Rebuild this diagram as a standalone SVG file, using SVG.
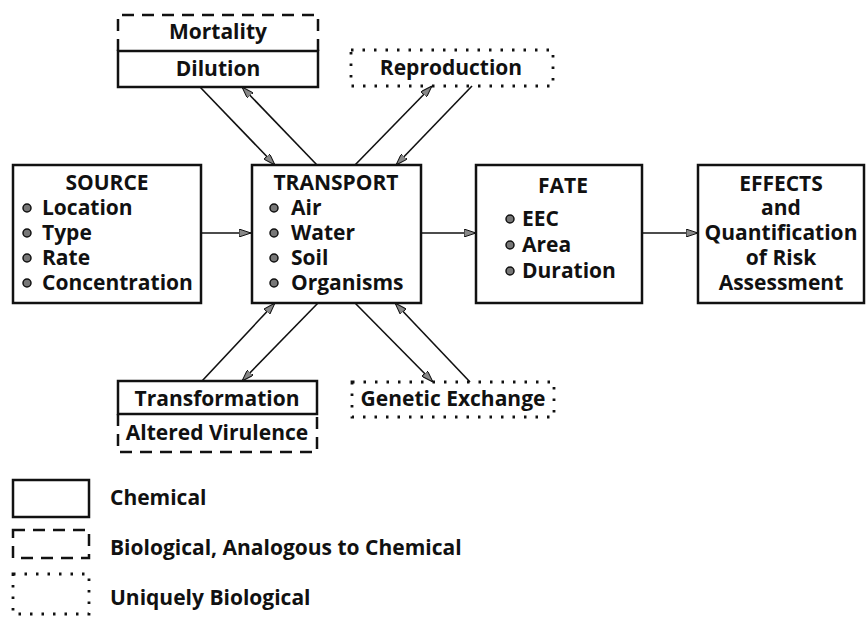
<svg xmlns="http://www.w3.org/2000/svg" width="867" height="617" viewBox="0 0 867 617">
<defs>
<style>
.t{font-family:"Open Sans","Liberation Sans",sans-serif;font-weight:bold;font-size:21px;fill:#111}
.c{text-anchor:middle}
.solid{fill:none;stroke:#111;stroke-width:2.5}
.dash{fill:none;stroke:#111;stroke-width:2.5;stroke-dasharray:12 8}
.dot{fill:none;stroke:#111;stroke-width:2.8;stroke-dasharray:2.5 9;stroke-linecap:butt}
.ln{stroke:#111;stroke-width:1.6;fill:none;marker-end:url(#ah)}
.b{fill:#777;stroke:#111;stroke-width:1.5}
</style>
<marker id="ah" viewBox="0 0 12 8" refX="12" refY="4" markerWidth="12" markerHeight="8" markerUnits="userSpaceOnUse" orient="auto">
<path d="M0,0 L12,4 L0,8 Z" fill="#888" stroke="#111" stroke-width="1"/>
</marker>
</defs>
<rect width="867" height="617" fill="#fff"/>

<g id="connectors">
<line class="ln" x1="200" y1="233" x2="251" y2="233"/>
<line class="ln" x1="421" y1="233" x2="476" y2="233"/>
<line class="ln" x1="642" y1="233" x2="698" y2="233"/>
<line class="ln" x1="200" y1="87" x2="275" y2="165"/>
<line class="ln" x1="317" y1="165" x2="242" y2="87"/>
<line class="ln" x1="355" y1="165" x2="432" y2="86"/>
<line class="ln" x1="472" y1="86" x2="396" y2="165"/>
<line class="ln" x1="202" y1="381" x2="275" y2="303"/>
<line class="ln" x1="318" y1="303" x2="242" y2="381"/>
<line class="ln" x1="355" y1="303" x2="433" y2="382"/>
<line class="ln" x1="470" y1="382" x2="395" y2="303"/>
</g>

<g id="mortality">
<path class="dash" d="M118,51 V15 H318 V51"/>
<text class="t c" x="218" y="39">Mortality</text>
</g>
<g id="dilution">
<rect class="solid" x="118" y="51" width="200" height="36"/>
<text class="t c" x="218" y="76">Dilution</text>
</g>

<g id="reproduction">
<rect class="dot" x="351" y="50" width="202" height="36"/>
<text class="t c" x="451" y="75">Reproduction</text>
</g>

<g id="source">
<rect class="solid" x="13" y="165" width="188" height="138"/>
<text class="t c" x="107" y="190">SOURCE</text>
<circle class="b" cx="27" cy="208" r="4"/><text class="t" x="42" y="215">Location</text>
<circle class="b" cx="27" cy="233" r="4"/><text class="t" x="42" y="240">Type</text>
<circle class="b" cx="27" cy="258" r="4"/><text class="t" x="42" y="265">Rate</text>
<circle class="b" cx="27" cy="283" r="4"/><text class="t" x="42" y="290">Concentration</text>
</g>

<g id="transport">
<rect class="solid" x="252" y="165" width="169" height="138"/>
<text class="t c" x="336" y="190">TRANSPORT</text>
<circle class="b" cx="274" cy="208" r="4"/><text class="t" x="291" y="215">Air</text>
<circle class="b" cx="274" cy="233" r="4"/><text class="t" x="291" y="240">Water</text>
<circle class="b" cx="274" cy="258" r="4"/><text class="t" x="291" y="265">Soil</text>
<circle class="b" cx="274" cy="283" r="4"/><text class="t" x="291" y="290">Organisms</text>
</g>

<g id="fate">
<rect class="solid" x="476" y="165" width="166" height="138"/>
<text class="t c" x="563" y="193">FATE</text>
<circle class="b" cx="510" cy="219" r="4"/><text class="t" x="522" y="226">EEC</text>
<circle class="b" cx="510" cy="245" r="4"/><text class="t" x="522" y="252">Area</text>
<circle class="b" cx="510" cy="271" r="4"/><text class="t" x="522" y="278">Duration</text>
</g>

<g id="effects">
<rect class="solid" x="698" y="165" width="166" height="138"/>
<text class="t c" x="781" y="191">EFFECTS</text>
<text class="t c" x="781" y="215">and</text>
<text class="t c" x="781" y="240">Quantification</text>
<text class="t c" x="781" y="265">of Risk</text>
<text class="t c" x="781" y="290">Assessment</text>
</g>

<g id="transformation">
<rect class="solid" x="118" y="381" width="199" height="33"/>
<text class="t c" x="217" y="406">Transformation</text>
</g>
<g id="altered-virulence">
<path class="dash" d="M118,414 V452 H317 V414"/>
<text class="t c" x="217" y="440">Altered Virulence</text>
</g>

<g id="genetic-exchange">
<rect class="dot" x="352" y="382" width="202" height="35"/>
<text class="t c" x="453" y="406">Genetic Exchange</text>
</g>

<g id="legend">
<rect class="solid" x="13" y="480" width="76" height="37"/>
<text class="t" x="110" y="505">Chemical</text>
<rect class="dash" x="13" y="530" width="76" height="28"/>
<text class="t" x="110" y="555">Biological, Analogous to Chemical</text>
<rect class="dot" x="13" y="574" width="76" height="40"/>
<text class="t" x="110" y="605">Uniquely Biological</text>
</g>
</svg>
